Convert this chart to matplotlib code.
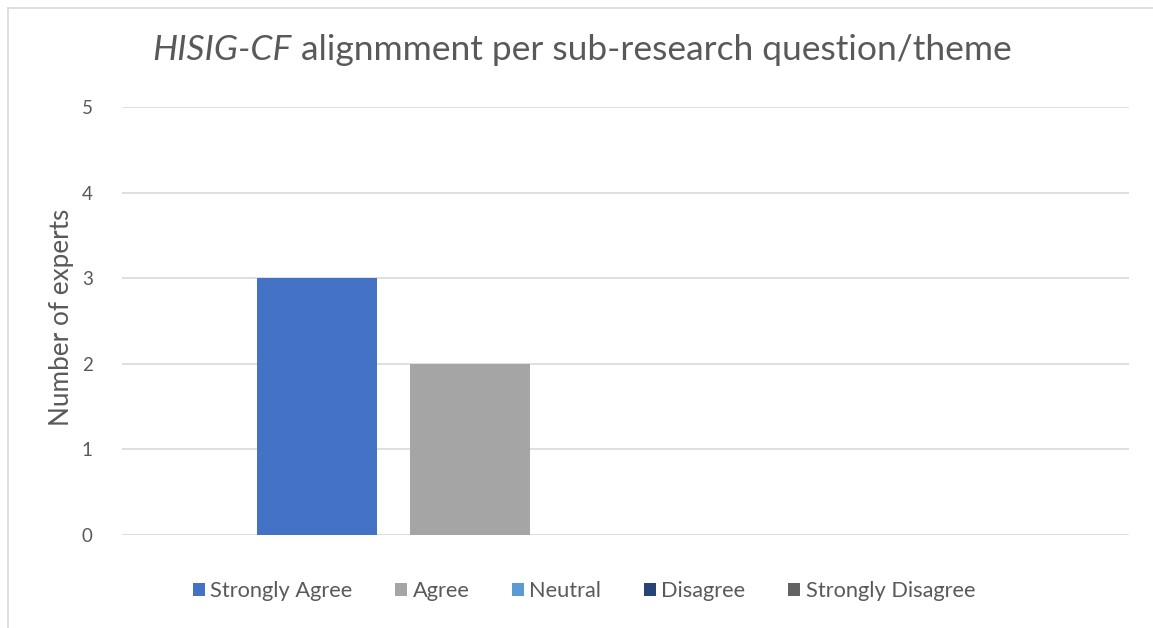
import matplotlib
matplotlib.use("Agg")
import matplotlib.pyplot as plt
from matplotlib.lines import Line2D

# Responses to the HISIG-CF alignment question
series = ["Strongly Agree", "Agree", "Neutral", "Disagree", "Strongly Disagree"]
counts = [3, 2, 0, 0, 0]
colors = ["#4472C4", "#A5A5A5", "#5B9BD5", "#264478", "#636363"]
y_ticks = [0, 1, 2, 3, 4, 5]

title_italic = "HISIG-CF"
title_rest = " alignmment per sub-research question/theme"
y_label = "Number of experts"

FONT = "Lato"
TEXT = "#595959"
W, H, DPI = 1153, 628, 100

fig = plt.figure(figsize=(W / DPI, H / DPI), dpi=DPI)
fig.patch.set_facecolor("white")

# chart frame: left and top edges
fig.add_artist(Line2D([8 / W, 8 / W], [0, 1 - 8 / H], transform=fig.transFigure,
                      color="#D9D9D9", lw=1.2))
fig.add_artist(Line2D([8 / W, 1], [1 - 8 / H, 1 - 8 / H], transform=fig.transFigure,
                      color="#D9D9D9", lw=1.2))

left, right, top, bottom = 122, 1129, 107, 535
ax = fig.add_axes([left / W, 1 - bottom / H, (right - left) / W, (bottom - top) / H])

# clustered columns for the single category
bar_w = 120 / (right - left)
step = 153 / (right - left)
group_shift = -3 / (right - left)
n = len(series)
for i, (name, val, col) in enumerate(zip(series, counts, colors)):
    ax.bar((i - (n - 1) / 2) * step + group_shift, val, width=bar_w, color=col,
           label=name, zorder=3)

ax.set_xlim(-0.5, 0.5)
ax.set_ylim(0, 5)
ax.set_yticks(y_ticks)
ax.set_xticks([])
ax.grid(axis="y", color="#D9D9D9", lw=1.2, zorder=0)
for s in ax.spines.values():
    s.set_visible(False)
ax.tick_params(axis="y", length=0, pad=21, labelsize=13.5, labelcolor=TEXT)
for lab in ax.get_yticklabels():
    lab.set_fontfamily(FONT)

fig.text(61 / W, 1 - 317 / H, y_label, rotation=90, ha="center", va="center",
         fontsize=18.8, color=TEXT, family=FONT)

# title with italic lead-in, centred as a whole
fig.canvas.draw()
r = fig.canvas.get_renderer()
t1 = fig.text(0, 1 - 50 / H, title_italic, fontsize=25.5, style="italic",
              color=TEXT, family=FONT, va="center")
t2 = fig.text(0, 1 - 50 / H, title_rest, fontsize=25.5, color=TEXT,
              family=FONT, va="center")
w1 = t1.get_window_extent(r).width
w2 = t2.get_window_extent(r).width
x0 = 582 - (w1 + w2) / 2
t1.set_x(x0 / W)
t2.set_x((x0 + w1) / W)

leg = fig.legend(loc="center", bbox_to_anchor=(584 / W, 1 - 591 / H), ncol=5,
                 frameon=False, handlelength=0.55, handleheight=0.55,
                 handletextpad=0.25, columnspacing=1.95,
                 prop={"family": FONT, "size": 15.7})
for t in leg.get_texts():
    t.set_color(TEXT)

fig.savefig("out.png", dpi=DPI, facecolor="white")
